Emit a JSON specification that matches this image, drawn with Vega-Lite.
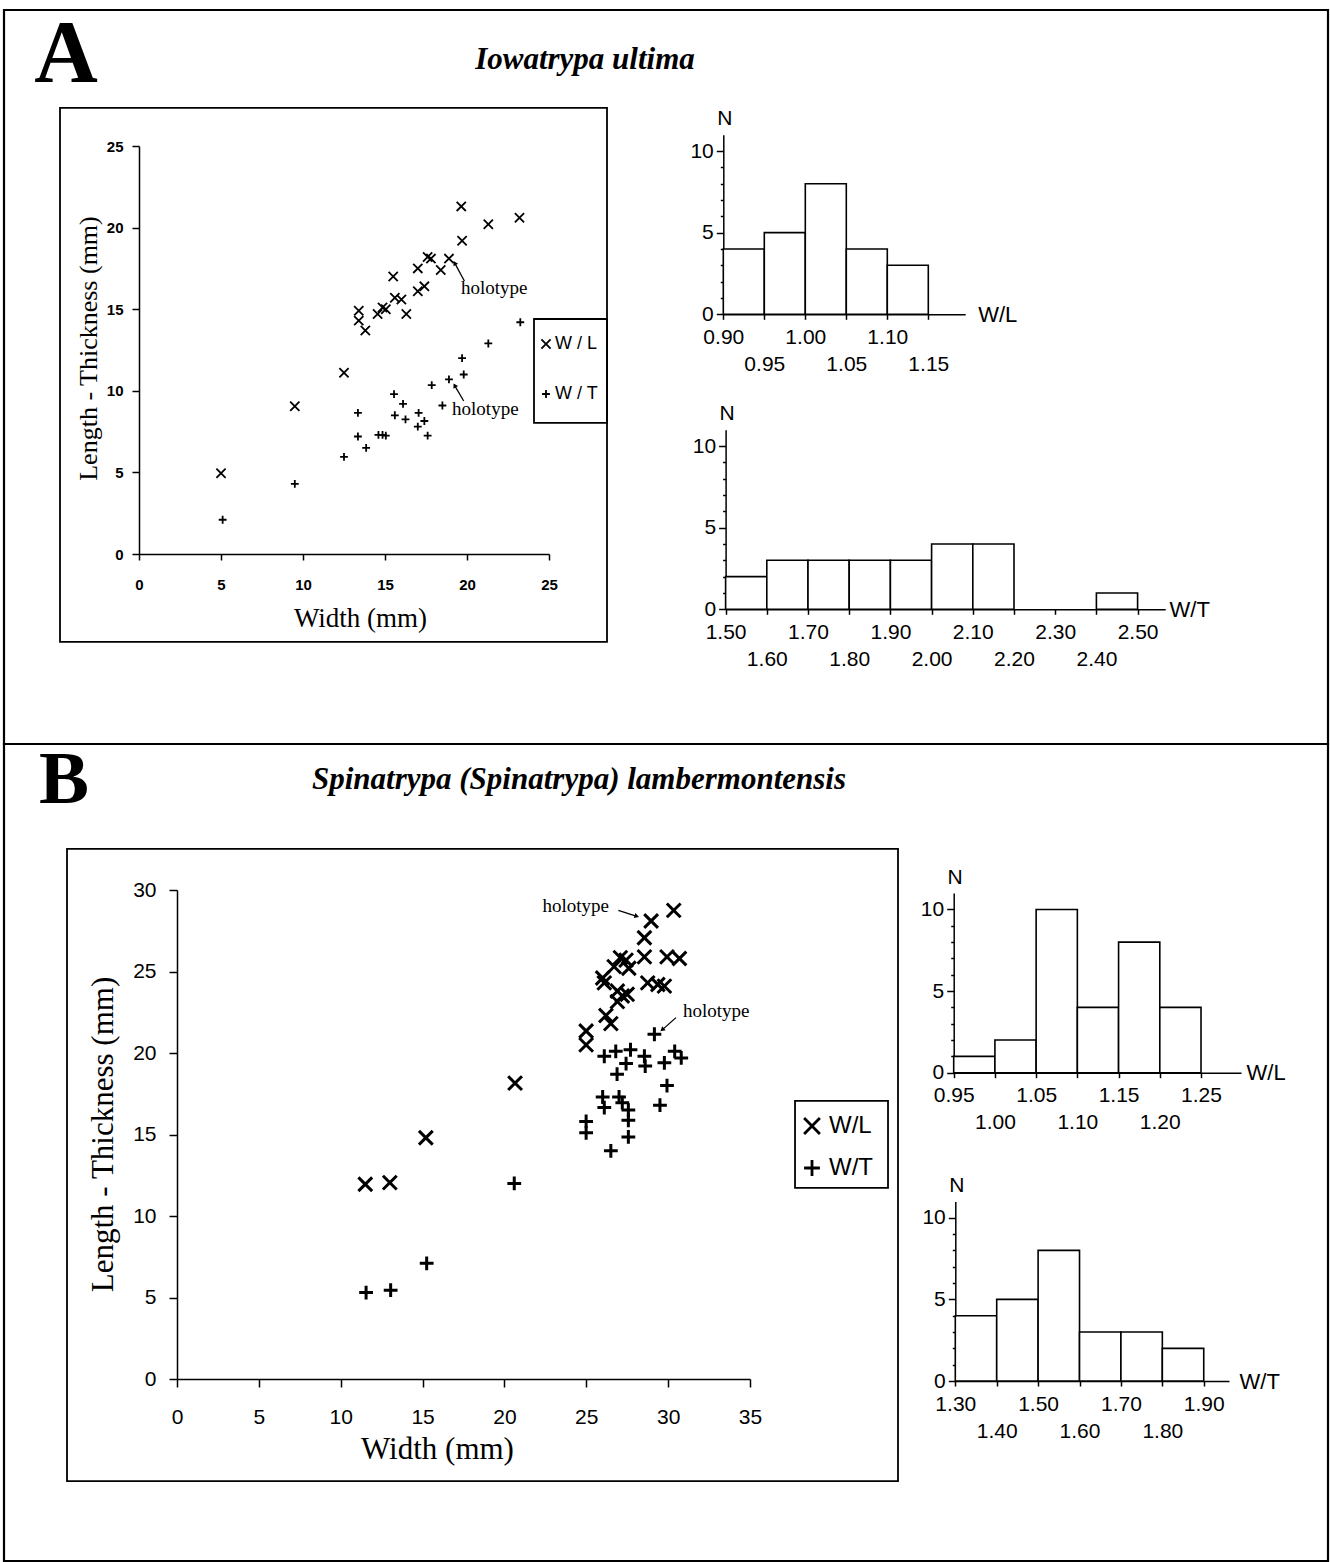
{
"$schema": "https://vega.github.io/schema/vega-lite/v6.json",
"background": "white",
"padding": {"left": 2, "top": 8, "right": 0, "bottom": 0},
"spacing": 0,
"bounds": "flush",
"config": {
  "view": {"stroke": "black", "strokeWidth": 2.2},
  "axis": {"grid": false, "domainColor": "black", "tickColor": "black", "labelColor": "black", "titleColor": "black", "domainWidth": 1.5, "tickWidth": 1.5, "labelFont": "Liberation Sans", "titleFont": "Liberation Serif", "titleFontWeight": "normal", "labelFlush": false, "labelOverlap": false, "labelBound": false},
  "legend": {"labelFont": "Liberation Sans", "labelColor": "black"}
},
"resolve": {"scale": {"shape": "independent"}, "legend": {"shape": "independent"}},
"datasets": {
  "scatterA": [
    {"w": 5.0, "v": 4.95, "r": "W / L"}, {"w": 9.5, "v": 9.05, "r": "W / L"}, {"w": 12.5, "v": 11.1, "r": "W / L"},
    {"w": 13.4, "v": 14.9, "r": "W / L"}, {"w": 13.4, "v": 14.3, "r": "W / L"}, {"w": 13.8, "v": 13.7, "r": "W / L"},
    {"w": 14.55, "v": 14.7, "r": "W / L"}, {"w": 14.85, "v": 15.1, "r": "W / L"}, {"w": 15.05, "v": 15.0, "r": "W / L"},
    {"w": 15.5, "v": 17.0, "r": "W / L"}, {"w": 15.6, "v": 15.7, "r": "W / L"}, {"w": 16.0, "v": 15.6, "r": "W / L"},
    {"w": 16.3, "v": 14.7, "r": "W / L"}, {"w": 17.0, "v": 16.1, "r": "W / L"}, {"w": 17.4, "v": 16.4, "r": "W / L"},
    {"w": 17.0, "v": 17.5, "r": "W / L"}, {"w": 18.4, "v": 17.4, "r": "W / L"}, {"w": 17.6, "v": 18.2, "r": "W / L"},
    {"w": 17.8, "v": 18.1, "r": "W / L"}, {"w": 18.9, "v": 18.1, "r": "W / L"}, {"w": 19.65, "v": 21.3, "r": "W / L"},
    {"w": 19.7, "v": 19.2, "r": "W / L"}, {"w": 21.3, "v": 20.2, "r": "W / L"}, {"w": 23.2, "v": 20.6, "r": "W / L"},
    {"w": 5.1, "v": 2.1, "r": "W / T"}, {"w": 9.5, "v": 4.3, "r": "W / T"}, {"w": 12.5, "v": 5.95, "r": "W / T"},
    {"w": 13.35, "v": 7.2, "r": "W / T"}, {"w": 13.35, "v": 8.65, "r": "W / T"}, {"w": 13.85, "v": 6.5, "r": "W / T"},
    {"w": 14.6, "v": 7.3, "r": "W / T"}, {"w": 14.85, "v": 7.3, "r": "W / T"}, {"w": 15.05, "v": 7.25, "r": "W / T"},
    {"w": 15.55, "v": 9.8, "r": "W / T"}, {"w": 16.1, "v": 9.2, "r": "W / T"}, {"w": 15.6, "v": 8.5, "r": "W / T"},
    {"w": 16.25, "v": 8.25, "r": "W / T"}, {"w": 17.05, "v": 8.65, "r": "W / T"}, {"w": 17.4, "v": 8.15, "r": "W / T"},
    {"w": 17.0, "v": 7.8, "r": "W / T"}, {"w": 17.6, "v": 7.25, "r": "W / T"}, {"w": 18.5, "v": 9.1, "r": "W / T"},
    {"w": 17.85, "v": 10.35, "r": "W / T"}, {"w": 18.9, "v": 10.7, "r": "W / T"}, {"w": 19.7, "v": 12.0, "r": "W / T"},
    {"w": 19.8, "v": 11.0, "r": "W / T"}, {"w": 21.3, "v": 12.9, "r": "W / T"}, {"w": 23.25, "v": 14.2, "r": "W / T"}
  ],
  "scatterB": [
    {"w": 11.5, "v": 11.95, "r": "W/L"}, {"w": 13.0, "v": 12.05, "r": "W/L"}, {"w": 15.2, "v": 14.8, "r": "W/L"},
    {"w": 20.65, "v": 18.15, "r": "W/L"}, {"w": 24.99, "v": 20.5, "r": "W/L"}, {"w": 24.99, "v": 21.35, "r": "W/L"},
    {"w": 26.5, "v": 21.8, "r": "W/L"}, {"w": 26.2, "v": 22.3, "r": "W/L"}, {"w": 26.9, "v": 23.15, "r": "W/L"},
    {"w": 27.2, "v": 23.5, "r": "W/L"}, {"w": 27.5, "v": 23.6, "r": "W/L"}, {"w": 26.9, "v": 23.8, "r": "W/L"},
    {"w": 26.1, "v": 24.3, "r": "W/L"}, {"w": 26.0, "v": 24.6, "r": "W/L"}, {"w": 28.75, "v": 24.3, "r": "W/L"},
    {"w": 29.37, "v": 24.2, "r": "W/L"}, {"w": 29.77, "v": 24.1, "r": "W/L"}, {"w": 26.7, "v": 25.3, "r": "W/L"},
    {"w": 27.6, "v": 25.2, "r": "W/L"}, {"w": 27.08, "v": 25.85, "r": "W/L"}, {"w": 27.43, "v": 25.7, "r": "W/L"},
    {"w": 28.55, "v": 25.9, "r": "W/L"}, {"w": 29.93, "v": 25.9, "r": "W/L"}, {"w": 30.69, "v": 25.8, "r": "W/L"},
    {"w": 28.55, "v": 27.07, "r": "W/L"}, {"w": 28.96, "v": 28.1, "r": "W/L"}, {"w": 30.34, "v": 28.75, "r": "W/L"},
    {"w": 11.55, "v": 5.3, "r": "W/T"}, {"w": 13.05, "v": 5.45, "r": "W/T"}, {"w": 15.25, "v": 7.1, "r": "W/T"},
    {"w": 20.6, "v": 12.0, "r": "W/T"}, {"w": 24.99, "v": 15.1, "r": "W/T"}, {"w": 24.99, "v": 15.8, "r": "W/T"},
    {"w": 26.5, "v": 14.0, "r": "W/T"}, {"w": 27.57, "v": 14.85, "r": "W/T"}, {"w": 27.57, "v": 15.87, "r": "W/T"},
    {"w": 26.1, "v": 16.65, "r": "W/T"}, {"w": 27.2, "v": 16.95, "r": "W/T"}, {"w": 27.57, "v": 16.5, "r": "W/T"},
    {"w": 26.0, "v": 17.3, "r": "W/T"}, {"w": 27.0, "v": 17.3, "r": "W/T"}, {"w": 29.5, "v": 16.8, "r": "W/T"},
    {"w": 29.93, "v": 18.0, "r": "W/T"}, {"w": 26.88, "v": 18.7, "r": "W/T"}, {"w": 27.43, "v": 19.35, "r": "W/T"},
    {"w": 26.1, "v": 19.8, "r": "W/T"}, {"w": 26.8, "v": 20.1, "r": "W/T"}, {"w": 27.7, "v": 20.2, "r": "W/T"},
    {"w": 28.55, "v": 19.8, "r": "W/T"}, {"w": 28.6, "v": 19.2, "r": "W/T"}, {"w": 29.77, "v": 19.4, "r": "W/T"},
    {"w": 30.4, "v": 20.1, "r": "W/T"}, {"w": 30.8, "v": 19.7, "r": "W/T"}, {"w": 29.16, "v": 21.15, "r": "W/T"}
  ]
},
"vconcat": [
 {
  "width": 1324, "height": 734,
  "title": {"text": "Iowatrypa ultima", "anchor": "middle", "dx": -81, "offset": -90, "baseline": "alphabetic", "font": "Liberation Serif", "fontSize": 31, "fontStyle": "italic", "fontWeight": "bold", "color": "black"},
  "resolve": {"scale": {"x": "independent", "y": "independent"}},
  "layer": [
   {
    "data": {"values": [{"x1": -4.817, "x2": 28.537, "y1": -5.39, "y2": 27.33}, {"x1": 24.085, "x2": 28.537, "y1": 8.03, "y2": 14.4}]},
    "mark": {"type": "rect", "filled": false, "color": "black", "strokeWidth": 1.8},
    "encoding": {
      "x": {"field": "x1", "type": "quantitative", "scale": {"domain": [0, 25], "range": [135, 545], "nice": false, "zero": false}, "axis": null},
      "x2": {"field": "x2"},
      "y": {"field": "y1", "type": "quantitative", "scale": {"domain": [0, 25], "range": [544, 136], "nice": false, "zero": false}, "axis": null},
      "y2": {"field": "y2"}
    }
   },
   {
    "data": {"name": "scatterA"},
    "mark": {"type": "point", "filled": false, "color": "black", "strokeWidth": 1.8, "size": 85, "opacity": 1},
    "encoding": {
      "x": {"field": "w", "type": "quantitative", "scale": {"domain": [0, 25], "range": [135, 545], "nice": false, "zero": false},
            "axis": {"orient": "bottom", "offset": -190, "values": [0, 5, 10, 15, 20, 25], "tickSize": 6, "labelPadding": 17, "labelFontSize": 15, "labelFontWeight": "bold", "title": "Width (mm)", "titleFontSize": 27, "titleX": 356, "titleY": 64, "titleBaseline": "middle", "titleAlign": "center"}},
      "y": {"field": "v", "type": "quantitative", "scale": {"domain": [0, 25], "range": [544, 136], "nice": false, "zero": false},
            "axis": {"orient": "left", "offset": -135, "values": [0, 5, 10, 15, 20, 25], "tickSize": 7, "labelPadding": 9, "labelFontSize": 15, "labelFontWeight": "bold", "title": "Length - Thickness (mm)", "titleFontSize": 26, "titleX": -51, "titleY": 338, "titleAngle": -90, "titleBaseline": "middle", "titleAlign": "center"}},
      "shape": {"field": "r", "type": "nominal", "scale": {"domain": ["W / L", "W / T"], "range": ["M-1,-1L1,1M-1,1L1,-1", "M-0.85,0L0.85,0M0,-0.85L0,0.85"]},
            "legend": {"orient": "none", "legendX": 533, "legendY": 325, "title": null, "padding": 0, "labelFontSize": 18, "labelOffset": 0, "rowPadding": 32, "symbolSize": 85, "symbolStrokeWidth": 1.8, "symbolStrokeColor": "black", "symbolFillColor": "transparent"}}
    }
   },
   {
    "data": {"values": [{"x": 19.63, "y": 15.93, "t": "holotype"}, {"x": 19.09, "y": 8.52, "t": "holotype"}]},
    "mark": {"type": "text", "align": "left", "baseline": "alphabetic", "font": "Liberation Serif", "fontSize": 19, "color": "black"},
    "encoding": {
      "x": {"field": "x", "type": "quantitative", "scale": {"domain": [0, 25], "range": [135, 545], "nice": false, "zero": false}, "axis": null},
      "y": {"field": "y", "type": "quantitative", "scale": {"domain": [0, 25], "range": [544, 136], "nice": false, "zero": false}, "axis": null},
      "text": {"field": "t"}
    }
   },
   {
    "data": {"values": [{"x": 19.84, "y": 16.73, "x2": 19.27, "y2": 17.79}, {"x": 19.8, "y": 9.375, "x2": 19.27, "y2": 10.29}]},
    "mark": {"type": "rule", "color": "black", "strokeWidth": 1.3},
    "encoding": {
      "x": {"field": "x", "type": "quantitative", "scale": {"domain": [0, 25], "range": [135, 545], "nice": false, "zero": false}, "axis": null},
      "y": {"field": "y", "type": "quantitative", "scale": {"domain": [0, 25], "range": [544, 136], "nice": false, "zero": false}, "axis": null},
      "x2": {"field": "x2"},
      "y2": {"field": "y2"}
    }
   },
   {
    "data": {"values": [{"x": 19.27, "y": 17.79}, {"x": 19.27, "y": 10.29}]},
    "mark": {"type": "point", "shape": "triangle", "filled": true, "color": "black", "size": 28, "angle": -29, "opacity": 1},
    "encoding": {
      "x": {"field": "x", "type": "quantitative", "scale": {"domain": [0, 25], "range": [135, 545], "nice": false, "zero": false}, "axis": null},
      "y": {"field": "y", "type": "quantitative", "scale": {"domain": [0, 25], "range": [544, 136], "nice": false, "zero": false}, "axis": null}
    }
   },
   {
    "data": {"values": [{"x": -4.45, "y": 28.98, "t": "A"}]},
    "mark": {"type": "text", "align": "center", "baseline": "alphabetic", "font": "Liberation Serif", "fontSize": 88, "fontWeight": "bold", "color": "black"},
    "encoding": {
      "x": {"field": "x", "type": "quantitative", "scale": {"domain": [0, 25], "range": [135, 545], "nice": false, "zero": false}, "axis": null},
      "y": {"field": "y", "type": "quantitative", "scale": {"domain": [0, 25], "range": [544, 136], "nice": false, "zero": false}, "axis": null},
      "text": {"field": "t"}
    }
   },
   {
    "data": {"values": [{"lo": 0.90, "hi": 0.95, "n": 4}, {"lo": 0.95, "hi": 1.00, "n": 5}, {"lo": 1.00, "hi": 1.05, "n": 8}, {"lo": 1.05, "hi": 1.10, "n": 4}, {"lo": 1.10, "hi": 1.15, "n": 3}]},
    "mark": {"type": "bar", "fill": "white", "stroke": "black", "strokeWidth": 1.6},
    "encoding": {
      "x": {"field": "lo", "type": "quantitative", "scale": {"domain": [0.9, 1.195], "range": [719.3, 961.2], "nice": false, "zero": false},
            "axis": {"orient": "bottom", "offset": -429.7, "values": [0.9, 0.95, 1.0, 1.05, 1.1, 1.15], "format": ".2f", "labelExpr": "round(datum.value*100) % 10 == 5 ? ['', datum.label] : datum.label", "labelFontSize": 21, "labelLineHeight": 27, "tickSize": 5, "labelPadding": 7, "title": "W/L", "titleFont": "Liberation Sans", "titleFontSize": 22, "titleFontWeight": "normal", "titleX": 973.7, "titleY": 0, "titleAlign": "left", "titleBaseline": "middle", "titleAngle": 0}},
      "x2": {"field": "hi"},
      "y": {"field": "n", "type": "quantitative", "scale": {"domain": [0, 11], "range": [304.3, 124.7], "nice": false, "zero": false},
            "axis": {"orient": "left", "offset": -719.3, "values": [0, 1, 2, 3, 4, 5, 6, 7, 8, 9, 10], "labelExpr": "datum.value % 5 == 0 ? datum.label : ''", "labelFontSize": 21, "tickSize": {"condition": {"test": "datum.value % 5 == 0", "value": 7}, "value": 3}, "labelPadding": 3, "title": "N", "titleFont": "Liberation Sans", "titleFontSize": 21, "titleFontWeight": "normal", "titleAngle": 0, "titleX": 1, "titleY": 114.5, "titleAlign": "center", "titleBaseline": "alphabetic"}},
      "y2": {"datum": 0}
    }
   },
   {
    "data": {"values": [{"lo": 1.5, "hi": 1.6, "n": 2}, {"lo": 1.6, "hi": 1.7, "n": 3}, {"lo": 1.7, "hi": 1.8, "n": 3}, {"lo": 1.8, "hi": 1.9, "n": 3}, {"lo": 1.9, "hi": 2.0, "n": 3}, {"lo": 2.0, "hi": 2.1, "n": 4}, {"lo": 2.1, "hi": 2.2, "n": 4}, {"lo": 2.4, "hi": 2.5, "n": 1}]},
    "mark": {"type": "bar", "fill": "white", "stroke": "black", "strokeWidth": 1.6},
    "encoding": {
      "x": {"field": "lo", "type": "quantitative", "scale": {"domain": [1.5, 2.567], "range": [721.6, 1161.2], "nice": false, "zero": false},
            "axis": {"orient": "bottom", "offset": -134.7, "values": [1.5, 1.6, 1.7, 1.8, 1.9, 2.0, 2.1, 2.2, 2.3, 2.4, 2.5], "format": ".2f", "labelExpr": "round(datum.value*10) % 2 == 0 ? ['', datum.label] : datum.label", "labelFontSize": 21, "labelLineHeight": 27, "tickSize": 5, "labelPadding": 7, "title": "W/T", "titleFont": "Liberation Sans", "titleFontSize": 22, "titleFontWeight": "normal", "titleX": 1165, "titleY": 0, "titleAlign": "left", "titleBaseline": "middle", "titleAngle": 0}},
      "x2": {"field": "hi"},
      "y": {"field": "n", "type": "quantitative", "scale": {"domain": [0, 11], "range": [599.3, 419.7], "nice": false, "zero": false},
            "axis": {"orient": "left", "offset": -721.6, "values": [0, 1, 2, 3, 4, 5, 6, 7, 8, 9, 10], "labelExpr": "datum.value % 5 == 0 ? datum.label : ''", "labelFontSize": 21, "tickSize": {"condition": {"test": "datum.value % 5 == 0", "value": 7}, "value": 3}, "labelPadding": 3, "title": "N", "titleFont": "Liberation Sans", "titleFontSize": 21, "titleFontWeight": "normal", "titleAngle": 0, "titleX": 1, "titleY": 409.7, "titleAlign": "center", "titleBaseline": "alphabetic"}},
      "y2": {"datum": 0}
    }
   }
  ]
 },
 {
  "width": 1324, "height": 817,
  "title": {"text": "Spinatrypa (Spinatrypa) lambermontensis", "anchor": "middle", "dx": -87, "offset": -77, "baseline": "alphabetic", "font": "Liberation Serif", "fontSize": 31, "fontStyle": "italic", "fontWeight": "bold", "color": "black"},
  "resolve": {"scale": {"x": "independent", "y": "independent"}},
  "layer": [
   {
    "data": {"values": [{"x1": -6.719, "x2": 44.04, "y1": -6.26, "y2": 32.52}, {"x1": 37.75, "x2": 43.43, "y1": 11.72, "y2": 17.06}]},
    "mark": {"type": "rect", "filled": false, "color": "black", "strokeWidth": 1.8},
    "encoding": {
      "x": {"field": "x1", "type": "quantitative", "scale": {"domain": [0, 35], "range": [173, 746], "nice": false, "zero": false}, "axis": null},
      "x2": {"field": "x2"},
      "y": {"field": "y1", "type": "quantitative", "scale": {"domain": [0, 30], "range": [635, 146], "nice": false, "zero": false}, "axis": null},
      "y2": {"field": "y2"}
    }
   },
   {
    "data": {"name": "scatterB"},
    "mark": {"type": "point", "filled": false, "color": "black", "strokeWidth": 3, "size": 190, "opacity": 1},
    "encoding": {
      "x": {"field": "w", "type": "quantitative", "scale": {"domain": [0, 35], "range": [173, 746], "nice": false, "zero": false},
            "axis": {"orient": "bottom", "offset": -182, "values": [0, 5, 10, 15, 20, 25, 30, 35], "tickSize": 8, "labelPadding": 19, "labelFontSize": 21, "title": "Width (mm)", "titleFontSize": 31, "titleX": 433, "titleY": 70, "titleBaseline": "middle", "titleAlign": "center"}},
      "y": {"field": "v", "type": "quantitative", "scale": {"domain": [0, 30], "range": [635, 146], "nice": false, "zero": false},
            "axis": {"orient": "left", "offset": -173, "values": [0, 5, 10, 15, 20, 25, 30], "tickSize": 8, "labelPadding": 13, "labelFontSize": 21, "title": "Length - Thickness (mm)", "titleFontSize": 31, "titleX": -74, "titleY": 390, "titleAngle": -90, "titleBaseline": "middle", "titleAlign": "center"}},
      "shape": {"field": "r", "type": "nominal", "scale": {"domain": ["W/L", "W/T"], "range": ["M-1,-1L1,1M-1,1L1,-1", "M-1,0L1,0M0,-1L0,1"]},
            "legend": {"orient": "none", "legendX": 796, "legendY": 370, "title": null, "padding": 0, "labelFontSize": 24, "labelOffset": 5, "rowPadding": 14, "symbolSize": 250, "symbolStrokeWidth": 2.8, "symbolStrokeColor": "black", "symbolFillColor": "transparent"}}
    }
   },
   {
    "data": {"values": [{"x": 26.39, "y": 28.65, "t": "holotype"}]},
    "mark": {"type": "text", "align": "right", "baseline": "alphabetic", "font": "Liberation Serif", "fontSize": 19, "color": "black"},
    "encoding": {
      "x": {"field": "x", "type": "quantitative", "scale": {"domain": [0, 35], "range": [173, 746], "nice": false, "zero": false}, "axis": null},
      "y": {"field": "y", "type": "quantitative", "scale": {"domain": [0, 30], "range": [635, 146], "nice": false, "zero": false}, "axis": null},
      "text": {"field": "t"}
    }
   },
   {
    "data": {"values": [{"x": 30.91, "y": 22.21, "t": "holotype"}]},
    "mark": {"type": "text", "align": "left", "baseline": "alphabetic", "font": "Liberation Serif", "fontSize": 19, "color": "black"},
    "encoding": {
      "x": {"field": "x", "type": "quantitative", "scale": {"domain": [0, 35], "range": [173, 746], "nice": false, "zero": false}, "axis": null},
      "y": {"field": "y", "type": "quantitative", "scale": {"domain": [0, 30], "range": [635, 146], "nice": false, "zero": false}, "axis": null},
      "text": {"field": "t"}
    }
   },
   {
    "data": {"values": [{"x": 26.96, "y": 28.75, "x2": 28.04, "y2": 28.4}, {"x": 30.48, "y": 22.17, "x2": 29.67, "y2": 21.45}]},
    "mark": {"type": "rule", "color": "black", "strokeWidth": 1.3},
    "encoding": {
      "x": {"field": "x", "type": "quantitative", "scale": {"domain": [0, 35], "range": [173, 746], "nice": false, "zero": false}, "axis": null},
      "y": {"field": "y", "type": "quantitative", "scale": {"domain": [0, 30], "range": [635, 146], "nice": false, "zero": false}, "axis": null},
      "x2": {"field": "x2"},
      "y2": {"field": "y2"}
    }
   },
   {
    "data": {"values": [{"x": 28.04, "y": 28.4}]},
    "mark": {"type": "point", "shape": "triangle", "filled": true, "color": "black", "size": 28, "angle": 108, "opacity": 1},
    "encoding": {
      "x": {"field": "x", "type": "quantitative", "scale": {"domain": [0, 35], "range": [173, 746], "nice": false, "zero": false}, "axis": null},
      "y": {"field": "y", "type": "quantitative", "scale": {"domain": [0, 30], "range": [635, 146], "nice": false, "zero": false}, "axis": null}
    }
   },
   {
    "data": {"values": [{"x": 29.67, "y": 21.45}]},
    "mark": {"type": "point", "shape": "triangle", "filled": true, "color": "black", "size": 28, "angle": 229, "opacity": 1},
    "encoding": {
      "x": {"field": "x", "type": "quantitative", "scale": {"domain": [0, 35], "range": [173, 746], "nice": false, "zero": false}, "axis": null},
      "y": {"field": "y", "type": "quantitative", "scale": {"domain": [0, 30], "range": [635, 146], "nice": false, "zero": false}, "axis": null}
    }
   },
   {
    "data": {"values": [{"x": -6.9, "y": 35.34, "t": "B"}]},
    "mark": {"type": "text", "align": "center", "baseline": "alphabetic", "font": "Liberation Serif", "fontSize": 75, "fontWeight": "bold", "color": "black"},
    "encoding": {
      "x": {"field": "x", "type": "quantitative", "scale": {"domain": [0, 35], "range": [173, 746], "nice": false, "zero": false}, "axis": null},
      "y": {"field": "y", "type": "quantitative", "scale": {"domain": [0, 30], "range": [635, 146], "nice": false, "zero": false}, "axis": null},
      "text": {"field": "t"}
    }
   },
   {
    "data": {"values": [{"lo": 0.95, "hi": 1.00, "n": 1}, {"lo": 1.00, "hi": 1.05, "n": 2}, {"lo": 1.05, "hi": 1.10, "n": 10}, {"lo": 1.10, "hi": 1.15, "n": 4}, {"lo": 1.15, "hi": 1.20, "n": 8}, {"lo": 1.20, "hi": 1.25, "n": 4}]},
    "mark": {"type": "bar", "fill": "white", "stroke": "black", "strokeWidth": 1.6},
    "encoding": {
      "x": {"field": "lo", "type": "quantitative", "scale": {"domain": [0.95, 1.2985], "range": [949.7, 1237], "nice": false, "zero": false},
            "axis": {"orient": "bottom", "offset": -488.3, "values": [0.95, 1.0, 1.05, 1.1, 1.15, 1.2, 1.25], "format": ".2f", "labelExpr": "round(datum.value*100) % 10 == 0 ? ['', datum.label] : datum.label", "labelFontSize": 21, "labelLineHeight": 27, "tickSize": 5, "labelPadding": 7, "title": "W/L", "titleFont": "Liberation Sans", "titleFontSize": 22, "titleFontWeight": "normal", "titleX": 1242, "titleY": 0, "titleAlign": "left", "titleBaseline": "middle", "titleAngle": 0}},
      "x2": {"field": "hi"},
      "y": {"field": "n", "type": "quantitative", "scale": {"domain": [0, 11], "range": [328.7, 149.1], "nice": false, "zero": false},
            "axis": {"orient": "left", "offset": -949.7, "values": [0, 1, 2, 3, 4, 5, 6, 7, 8, 9, 10], "labelExpr": "datum.value % 5 == 0 ? datum.label : ''", "labelFontSize": 21, "tickSize": {"condition": {"test": "datum.value % 5 == 0", "value": 7}, "value": 3}, "labelPadding": 3, "title": "N", "titleFont": "Liberation Sans", "titleFontSize": 21, "titleFontWeight": "normal", "titleAngle": 0, "titleX": 1, "titleY": 139.1, "titleAlign": "center", "titleBaseline": "alphabetic"}},
      "y2": {"datum": 0}
    }
   },
   {
    "data": {"values": [{"lo": 1.3, "hi": 1.4, "n": 4}, {"lo": 1.4, "hi": 1.5, "n": 5}, {"lo": 1.5, "hi": 1.6, "n": 8}, {"lo": 1.6, "hi": 1.7, "n": 3}, {"lo": 1.7, "hi": 1.8, "n": 3}, {"lo": 1.8, "hi": 1.9, "n": 2}]},
    "mark": {"type": "bar", "fill": "white", "stroke": "black", "strokeWidth": 1.6},
    "encoding": {
      "x": {"field": "lo", "type": "quantitative", "scale": {"domain": [1.3, 1.961], "range": [951.3, 1225], "nice": false, "zero": false},
            "axis": {"orient": "bottom", "offset": -180, "values": [1.3, 1.4, 1.5, 1.6, 1.7, 1.8, 1.9], "format": ".2f", "labelExpr": "round(datum.value*10) % 2 == 0 ? ['', datum.label] : datum.label", "labelFontSize": 21, "labelLineHeight": 27, "tickSize": 5, "labelPadding": 7, "title": "W/T", "titleFont": "Liberation Sans", "titleFontSize": 22, "titleFontWeight": "normal", "titleX": 1235, "titleY": 0, "titleAlign": "left", "titleBaseline": "middle", "titleAngle": 0}},
      "x2": {"field": "hi"},
      "y": {"field": "n", "type": "quantitative", "scale": {"domain": [0, 11], "range": [637, 457.4], "nice": false, "zero": false},
            "axis": {"orient": "left", "offset": -951.3, "values": [0, 1, 2, 3, 4, 5, 6, 7, 8, 9, 10], "labelExpr": "datum.value % 5 == 0 ? datum.label : ''", "labelFontSize": 21, "tickSize": {"condition": {"test": "datum.value % 5 == 0", "value": 7}, "value": 3}, "labelPadding": 3, "title": "N", "titleFont": "Liberation Sans", "titleFontSize": 21, "titleFontWeight": "normal", "titleAngle": 0, "titleX": 1, "titleY": 447.4, "titleAlign": "center", "titleBaseline": "alphabetic"}},
      "y2": {"datum": 0}
    }
   }
  ]
 }
]
}
